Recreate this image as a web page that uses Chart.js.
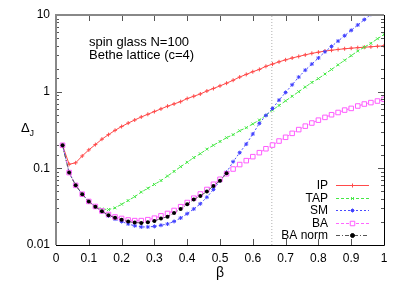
<!DOCTYPE html>
<html>
<head>
<meta charset="utf-8">
<script src="https://cdn.jsdelivr.net/npm/chart.js@4.4.0/dist/chart.umd.min.js"></script>
<style>
    html, body { margin: 0; padding: 0; background: #fff; }
    canvas { display: block; }
</style>
</head>
<body>
<canvas id="chart" width="407" height="285"></canvas>
<script>
// ====================================
// DATA
// ====================================

const beta = [0.02, 0.04, 0.06, 0.08, 0.10, 0.12, 0.14, 0.16, 0.18, 0.20,
              0.22, 0.24, 0.26, 0.28, 0.30, 0.32, 0.34, 0.36, 0.38, 0.40,
              0.42, 0.44, 0.46, 0.48, 0.50, 0.52, 0.54, 0.56, 0.58, 0.60,
              0.62, 0.64, 0.66, 0.68, 0.70, 0.72, 0.74, 0.76, 0.78, 0.80,
              0.82, 0.84, 0.86, 0.88, 0.90, 0.92, 0.94, 0.96, 0.98, 1.00];

const ip = [0.20, 0.113, 0.118, 0.145, 0.174, 0.204, 0.240, 0.275, 0.313, 0.351,
            0.389, 0.427, 0.468, 0.507, 0.550, 0.596, 0.646, 0.692, 0.741, 0.813,
            0.871, 0.933, 1.02, 1.10, 1.19, 1.29, 1.41, 1.55, 1.68, 1.82,
            1.95, 2.14, 2.29, 2.45, 2.60, 2.75, 2.88, 3.02, 3.16, 3.27,
            3.39, 3.47, 3.55, 3.63, 3.69, 3.75, 3.80, 3.85, 3.91, 3.96];

const tap = [0.20, 0.088, 0.060, 0.046, 0.037, 0.0316, 0.0295, 0.0290, 0.0305, 0.034,
             0.038, 0.0427, 0.049, 0.055, 0.0617, 0.0692, 0.0794, 0.0912, 0.105, 0.120,
             0.138, 0.155, 0.178, 0.200, 0.224, 0.251, 0.275, 0.309, 0.339, 0.380,
             0.427, 0.490, 0.575, 0.661, 0.759, 0.871, 1.00, 1.15, 1.32, 1.48,
             1.70, 1.95, 2.24, 2.57, 2.95, 3.39, 3.80, 4.27, 4.90, 5.56];

const sm = [0.20, 0.088, 0.060, 0.046, 0.037, 0.0316, 0.0272, 0.0240, 0.0218, 0.0202,
            0.0188, 0.0178, 0.0172, 0.0172, 0.0175, 0.0181, 0.0188, 0.0203, 0.0225, 0.0256,
            0.0295, 0.0345, 0.042, 0.053, 0.069, 0.089, 0.122, 0.160, 0.207, 0.280,
            0.386, 0.490, 0.603, 0.776, 0.977, 1.23, 1.55, 1.91, 2.29, 2.75,
            3.31, 3.89, 4.57, 5.37, 6.31, 7.41, 8.71, 10.2];

const ba = [0.20, 0.088, 0.060, 0.046, 0.037, 0.0318, 0.0278, 0.0250, 0.0232, 0.0222,
            0.0212, 0.0208, 0.0208, 0.0214, 0.0224, 0.0240, 0.0258, 0.0282, 0.0316, 0.0358,
            0.0408, 0.0463, 0.0530, 0.062, 0.072, 0.085, 0.098, 0.112, 0.126, 0.142,
            0.160, 0.180, 0.201, 0.227, 0.254, 0.286, 0.320, 0.355, 0.390, 0.425,
            0.462, 0.500, 0.535, 0.575, 0.605, 0.650, 0.690, 0.720, 0.755, 0.795];

const baNorm = [0.20, 0.088, 0.060, 0.046, 0.037, 0.0316, 0.0275, 0.0245, 0.0226, 0.0213,
                0.0202, 0.0196, 0.0194, 0.0198, 0.0206, 0.0221, 0.0234, 0.0262, 0.0295, 0.034,
                0.0392, 0.0436, 0.050, 0.059, 0.069, 0.086];

// dotted vertical marker
const betaMark = 0.658;

const xTicks = [0, 0.1, 0.2, 0.3, 0.4, 0.5, 0.6, 0.7, 0.8, 0.9, 1];
const xTickLabels = ['0', '0.1', '0.2', '0.3', '0.4', '0.5', '0.6', '0.7', '0.8', '0.9', '1'];
const yTicks = [0.01, 0.1, 1, 10];
const yTickLabels = ['0.01', '0.1', '1', '10'];

const FONT = '"Liberation Sans", Arial, Helvetica, sans-serif';

// pair beta values with a series
function toPoints(values) {
    return values.map((v, i) => ({ x: beta[i], y: v }));
}

function isMajor(v) {
    return yTicks.some(t => Math.abs(Math.log10(v) - Math.log10(t)) < 1e-6);
}

// ====================================
// DECORATIONS (frame, inward ticks, texts, legend)
// ====================================

const gnuplotLook = {
    id: 'gnuplotLook',
    afterDraw(chart) {
        const ctx = chart.ctx;
        const area = chart.chartArea;
        const xs = chart.scales.x;
        const ys = chart.scales.y;

        ctx.save();

        // inward tick marks
        ctx.strokeStyle = '#555';
        ctx.lineWidth = 1;
        ctx.beginPath();
        xTicks.forEach(v => {
            const px = Math.round(xs.getPixelForValue(v)) + 0.5;
            ctx.moveTo(px, area.bottom);
            ctx.lineTo(px, area.bottom - 6);
            ctx.moveTo(px, area.top);
            ctx.lineTo(px, area.top + 6);
        });
        ys.ticks.forEach(t => {
            const len = isMajor(t.value) ? 6 : 3;
            const py = Math.round(ys.getPixelForValue(t.value)) + 0.5;
            ctx.moveTo(area.left, py);
            ctx.lineTo(area.left + len, py);
            ctx.moveTo(area.right, py);
            ctx.lineTo(area.right - len, py);
        });
        ctx.stroke();

        // frame
        ctx.strokeStyle = '#888';
        ctx.lineWidth = 2;
        ctx.beginPath();
        ctx.moveTo(area.left, area.bottom);
        ctx.lineTo(area.left, area.top);
        ctx.lineTo(area.right, area.top);
        ctx.stroke();
        ctx.strokeStyle = '#000';
        ctx.lineWidth = 1;
        ctx.beginPath();
        ctx.moveTo(area.right + 0.5, area.top);
        ctx.lineTo(area.right + 0.5, area.bottom + 0.5);
        ctx.lineTo(area.left, area.bottom + 0.5);
        ctx.stroke();

        // axis titles
        ctx.fillStyle = '#000';
        ctx.textBaseline = 'alphabetic';
        ctx.textAlign = 'left';
        ctx.font = '13px ' + FONT;
        ctx.fillText('\u0394', 21, 132);
        ctx.font = '9px ' + FONT;
        ctx.fillText('J', 29.5, 136);
        ctx.font = '14px ' + FONT;
        ctx.textAlign = 'center';
        ctx.fillText('\u03b2', (area.left + area.right) / 2, 277);

        // annotation
        ctx.font = '13px ' + FONT;
        ctx.textAlign = 'left';
        ctx.fillText('spin glass N=100', 89, 46);
        ctx.fillText('Bethe lattice (c=4)', 89, 59);

        // legend
        ctx.font = '12px ' + FONT;
        const rowY = 185;
        const rowGap = 12.5;
        chart.data.datasets.forEach((ds, i) => {
            if (!ds.label) return;
            const y = rowY + i * rowGap;
            ctx.fillStyle = '#000';
            ctx.textAlign = 'right';
            ctx.textBaseline = 'middle';
            ctx.fillText(ds.label, 328, y + 1);

            ctx.strokeStyle = ds.borderColor;
            ctx.lineWidth = 1;
            ctx.setLineDash(ds.borderDash || []);
            ctx.beginPath();
            ctx.moveTo(336, Math.round(y) + 0.5);
            ctx.lineTo(369, Math.round(y) + 0.5);
            ctx.stroke();
            ctx.setLineDash([]);

            ctx.fillStyle = ds.pointBackgroundColor;
            ctx.strokeStyle = ds.pointBorderColor;
            Chart.helpers.drawPoint(ctx, {
                pointStyle: ds.pointStyle,
                radius: ds.pointRadius,
                borderWidth: 1,
                rotation: 0
            }, 352.5, Math.round(y) + 0.5);
        });

        ctx.restore();
    }
};

// ====================================
// CHART
// ====================================

const ctx = document.getElementById('chart');

new Chart(ctx, {
    type: 'line',
    data: {
        datasets: [
            {
                label: 'IP',
                data: toPoints(ip),
                borderColor: '#ff4a4a',
                borderWidth: 1,
                pointStyle: 'cross',
                pointRadius: 2,
                pointBorderWidth: 1,
                pointBorderColor: '#ff4a4a',
                pointBackgroundColor: '#ff4a4a',
                order: 4
            },
            {
                label: 'TAP',
                data: toPoints(tap),
                borderColor: '#44e844',
                borderWidth: 1,
                borderDash: [3, 2],
                pointStyle: 'crossRot',
                pointRadius: 2,
                pointBorderWidth: 1,
                pointBorderColor: '#44e844',
                pointBackgroundColor: '#44e844',
                order: 3
            },
            {
                label: 'SM',
                data: toPoints(sm),
                borderColor: '#4a4aff',
                borderWidth: 1,
                borderDash: [2, 2],
                pointStyle: 'star',
                pointRadius: 2,
                pointBorderWidth: 1,
                pointBorderColor: '#4040ff',
                pointBackgroundColor: '#4040ff',
                order: 2
            },
            {
                label: 'BA',
                data: toPoints(ba),
                borderColor: '#ff66ff',
                borderWidth: 1,
                borderDash: [3, 2],
                pointStyle: 'rect',
                pointRadius: 3.2,
                pointBorderWidth: 1,
                pointBorderColor: '#ff5cff',
                pointBackgroundColor: '#ffffff',
                order: 1
            },
            {
                label: 'BA norm',
                data: toPoints(baNorm),
                borderColor: '#555555',
                borderWidth: 1,
                borderDash: [4, 2, 1, 2],
                pointStyle: 'circle',
                pointRadius: 2,
                pointBorderWidth: 0,
                pointBorderColor: '#000000',
                pointBackgroundColor: '#000000',
                order: 0
            },
            {
                data: [{ x: betaMark, y: yTicks[0] }, { x: betaMark, y: yTicks[yTicks.length - 1] }],
                borderColor: '#b0b0b0',
                borderWidth: 1,
                borderDash: [1, 2],
                pointRadius: 0,
                order: 5
            }
        ]
    },
    options: {
        responsive: false,
        animation: false,
        devicePixelRatio: 1,
        layout: {
            padding: { left: 0, right: 23, top: 15, bottom: 0 }
        },
        elements: {
            line: { tension: 0 }
        },
        plugins: {
            legend: { display: false },
            tooltip: { enabled: false }
        },
        scales: {
            x: {
                type: 'linear',
                min: 0,
                max: 1,
                grid: { display: false, drawTicks: false },
                border: { display: false },
                afterBuildTicks: scale => {
                    scale.ticks = xTicks.map(v => ({ value: v }));
                },
                afterFit: scale => { scale.height = 40; },
                ticks: {
                    autoSkip: false,
                    maxRotation: 0,
                    padding: 6,
                    color: '#000',
                    font: { family: FONT, size: 12 },
                    callback: (value, index) => xTickLabels[index]
                }
            },
            y: {
                type: 'logarithmic',
                min: 0.01,
                max: 10,
                grid: { display: false, drawTicks: false },
                border: { display: false },
                afterFit: scale => { scale.width = 56; },
                ticks: {
                    autoSkip: false,
                    padding: 6,
                    color: '#000',
                    font: { family: FONT, size: 12 },
                    callback: function(value) {
                        const k = yTicks.findIndex(t => Math.abs(Math.log10(value) - Math.log10(t)) < 1e-6);
                        return k >= 0 ? yTickLabels[k] : '';
                    }
                }
            }
        }
    },
    plugins: [gnuplotLook]
});
</script>
</body>
</html>
